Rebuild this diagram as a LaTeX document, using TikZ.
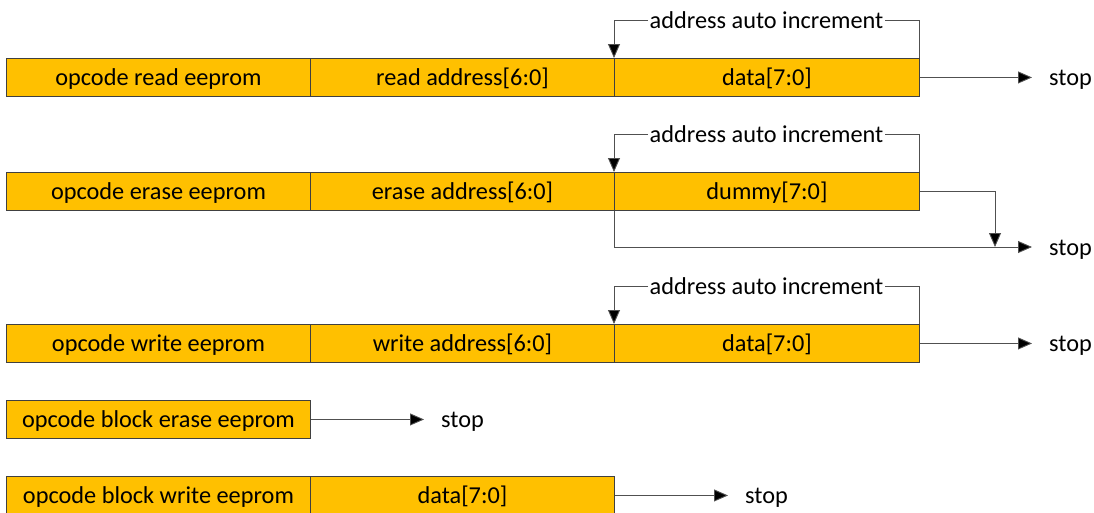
\documentclass[tikz,border=0pt]{standalone}
\usepackage{fontspec}
\setmainfont{Carlito}
\usetikzlibrary{arrows.meta}
\definecolor{boxfill}{HTML}{FFC000}
\definecolor{edge}{HTML}{404040}
\definecolor{wire}{HTML}{505050}
\begin{document}
\begin{tikzpicture}[x=1pt,y=-1pt,
  font=\fontsize{24.3}{28}\selectfont,
  txt/.style={text height=18pt,text depth=2pt},
  field/.style={txt,draw=edge,fill=boxfill,line width=0.9pt,minimum width=304pt,minimum height=38pt,inner sep=0pt,anchor=north west},
  stoplbl/.style={txt,anchor=west,inner xsep=17pt,inner ysep=0pt},
  inclbl/.style={txt,inner xsep=1.5pt,inner ysep=0pt},
  wireline/.style={draw=wire,line width=0.9pt},
  arr/.style={wireline,-{Triangle[length=14pt,width=12pt,fill=black]}}]
\useasboundingbox (0,0) rectangle (1094,512);
% row 1
\node[field] (op1) at (6,58) {opcode read eeprom};
\node[field] (ad1) at (310,58) {read address[6:0]};
\node[field,minimum width=305pt] (dt1) at (614,58) {data[7:0]};
\node[inclbl] (inc1) at (766.5,20) {address auto increment};
\node[stoplbl] (st1) at (1032,77) {stop};
\draw[wireline] (dt1.north east) |- (inc1.east);
\draw[arr] (inc1.west) -| (dt1.north west);
\draw[arr] (dt1.east) -- (dt1.east -| st1.west);
% row 2
\node[field] (op2) at (6,172) {opcode erase eeprom};
\node[field] (ad2) at (310,172) {erase address[6:0]};
\node[field,minimum width=305pt] (dt2) at (614,172) {dummy[7:0]};
\node[inclbl] (inc2) at (766.5,134) {address auto increment};
\node[stoplbl] (st2) at (1032,247) {stop};
\coordinate (drop2) at (995,247);
\draw[wireline] (dt2.north east) |- (inc2.east);
\draw[arr] (inc2.west) -| (dt2.north west);
\draw[arr] (dt2.south west) |- (st2.west);
\draw[arr] (dt2.east) -| (drop2);
% row 3
\node[field] (op3) at (6,324) {opcode write eeprom};
\node[field] (ad3) at (310,324) {write address[6:0]};
\node[field,minimum width=305pt] (dt3) at (614,324) {data[7:0]};
\node[inclbl] (inc3) at (766.5,286) {address auto increment};
\node[stoplbl] (st3) at (1032,343) {stop};
\draw[wireline] (dt3.north east) |- (inc3.east);
\draw[arr] (inc3.west) -| (dt3.north west);
\draw[arr] (dt3.east) -- (dt3.east -| st3.west);
% row 4
\node[field] (op4) at (6,400) {opcode block erase eeprom};
\node[stoplbl] (st4) at (424,419) {stop};
\draw[arr] (op4.east) -- (op4.east -| st4.west);
% row 5
\node[field] (op5) at (6,476) {opcode block write eeprom};
\node[field] (dt5) at (310,476) {data[7:0]};
\node[stoplbl] (st5) at (728,495) {stop};
\draw[arr] (dt5.east) -- (dt5.east -| st5.west);
\end{tikzpicture}
\end{document}
